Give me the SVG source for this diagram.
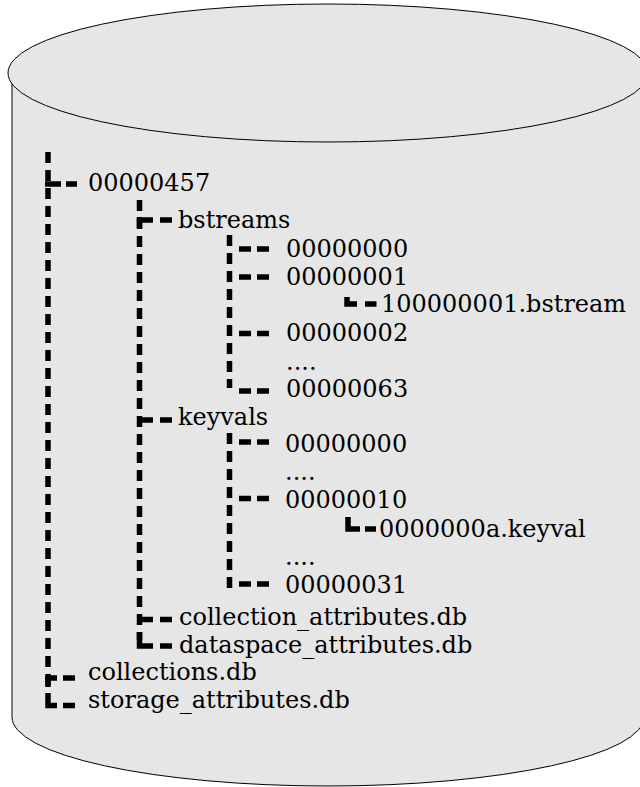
<svg xmlns="http://www.w3.org/2000/svg" width="640" height="787" viewBox="0 0 640 787">
<style>
.t{font-family:"DejaVu Serif","Liberation Serif",serif;font-size:24px;fill:#000}
.v{fill:none;stroke:#000;stroke-width:5.5;stroke-dasharray:11 7}
.h{fill:none;stroke:#000;stroke-width:5.5}
.cyl{fill:#e6e6e6;stroke:#000;stroke-width:1}
</style>
<g id="cylinder">
<path class="cyl" d="M12,73 V717 A316,69 0 0 0 644,717 V73 Z"/>
<ellipse class="cyl" cx="328" cy="73" rx="320" ry="69"/>
</g>
<g id="connectors">
<path class="v" d="M48,152 V690"/>
<path class="h" d="M45,184 H61 M66,184 H77"/>
<path class="h" d="M48,678 H57 M48,676 V687 M63,678 H75"/>
<path class="h" d="M48,693 V705.5 H57 M63,705.5 H75"/>
<path class="v" d="M139.5,200 V640"/>
<path class="h" d="M137,220 H153 M139.5,217 V228 M160,220 H172"/>
<path class="h" d="M137,420 H153 M160,420 H172"/>
<path class="h" d="M137,619.5 H153 M160,619.5 H172"/>
<path class="h" d="M139.5,632 V646 H153 M160,646 H172"/>
<path class="v" d="M229.5,235 V388"/>
<path class="h" d="M239,249 H251 M257,249 H269 M239,277 H251 M257,277 H269 M239,333.5 H251 M257,333.5 H269 M239,391 H251 M257,391 H269"/>
<path class="v" d="M229.5,433 V588"/>
<path class="h" d="M239,442 H251 M257,442 H269 M239,498.5 H251 M257,498.5 H269 M239,584 H251 M257,584 H269"/>
<path class="h" d="M347,297 V304 H357 M365,304 H376.5"/>
<path class="h" d="M348,517 V529 H360 M365,529 H376"/>
</g>
<g id="n00000457"><text class="t" x="88" y="191">00000457</text></g>
<g id="bstreams"><text class="t" x="178" y="228">bstreams</text></g>
<g id="b00000000"><text class="t" x="286" y="257">00000000</text></g>
<g id="b00000001"><text class="t" x="286" y="285">00000001</text></g>
<g id="bstreamfile"><text class="t" x="381" y="312">100000001.bstream</text></g>
<g id="b00000002"><text class="t" x="286" y="341">00000002</text></g>
<g id="bdots"><text class="t" x="286" y="370">....</text></g>
<g id="b00000063"><text class="t" x="286" y="397">00000063</text></g>
<g id="keyvals"><text class="t" x="178" y="425">keyvals</text></g>
<g id="k00000000"><text class="t" x="285" y="452">00000000</text></g>
<g id="kdots1"><text class="t" x="285" y="480">....</text></g>
<g id="k00000010"><text class="t" x="285" y="508">00000010</text></g>
<g id="keyvalfile"><text class="t" x="379" y="537">0000000a.keyval</text></g>
<g id="kdots2"><text class="t" x="285" y="565">....</text></g>
<g id="k00000031"><text class="t" x="285" y="593">00000031</text></g>
<g id="collattr"><text class="t" x="179" y="625">collection_attributes.db</text></g>
<g id="dsattr"><text class="t" x="179" y="653">dataspace_attributes.db</text></g>
<g id="collections"><text class="t" x="88" y="680">collections.db</text></g>
<g id="storage"><text class="t" x="88" y="708">storage_attributes.db</text></g>
</svg>
